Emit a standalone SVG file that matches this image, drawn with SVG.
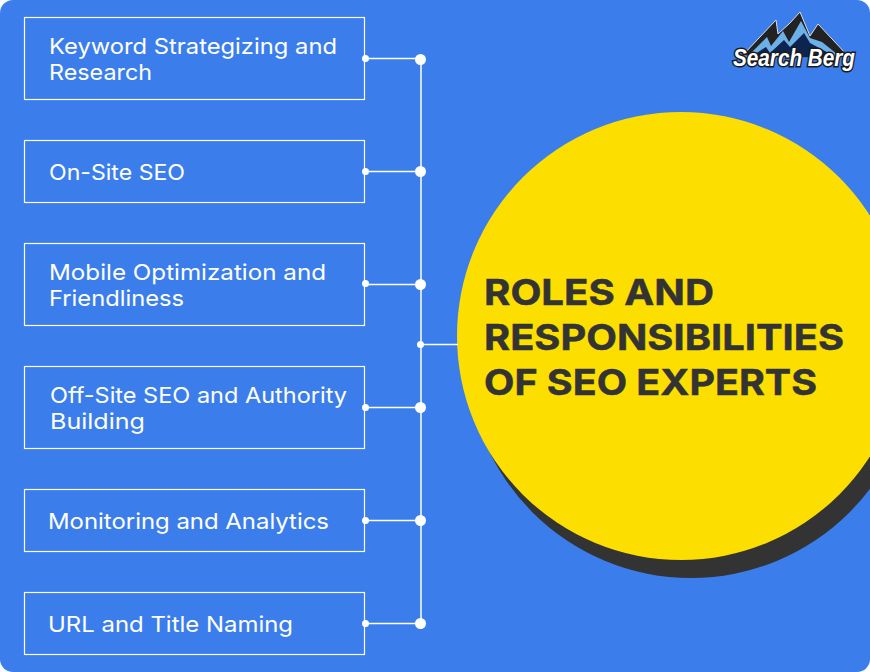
<svg xmlns="http://www.w3.org/2000/svg" width="870" height="672" viewBox="0 0 870 672">
<style>
.box{fill:none;stroke:#fff;stroke-width:1.2}
.t{font-family:Inter,"Open Sans",sans-serif;font-size:22px;font-weight:400;fill:#fff}
.h{font-family:Inter,"Liberation Sans",sans-serif;font-size:36px;font-weight:700;fill:#333;stroke:#333;stroke-width:.5}
.l{fill:none;stroke:#fff;stroke-width:1.5}
.d{fill:#fff}
</style>
<rect width="870" height="672" fill="#fff"/>
<rect id="background" width="870" height="672" rx="13" fill="#3b7eeb"/>
<g id="hub">
<circle cx="691" cy="354" r="224" fill="#333"/>
<circle cx="681" cy="336" r="224" fill="#fcdf00"/>
<text class="h" x="484" y="305" textLength="230" lengthAdjust="spacingAndGlyphs">ROLES AND</text>
<text class="h" x="484" y="350" textLength="360" lengthAdjust="spacingAndGlyphs">RESPONSIBILITIES</text>
<text class="h" x="484" y="395" textLength="333" lengthAdjust="spacingAndGlyphs">OF SEO EXPERTS</text>
</g>
<g id="connectors">
<path class="l" d="M421 59V623M365 58.500H421M365 171.500H421M365 284.500H421M365 407.500H421M365 520.500H421M365 623.500H421M421 344.500H458"/>
<g class="d">
<circle cx="365.500" cy="58.500" r="3.500"/><circle cx="365.500" cy="171.500" r="3.500"/><circle cx="365.500" cy="283.500" r="3.500"/><circle cx="365.500" cy="407.500" r="3.500"/><circle cx="365.500" cy="520.500" r="3.500"/><circle cx="365.500" cy="623.500" r="3.500"/>
<circle cx="420.500" cy="59.500" r="5.500"/><circle cx="420.500" cy="171.500" r="5.500"/><circle cx="420.500" cy="284.500" r="5.500"/><circle cx="420.500" cy="407.500" r="5.500"/><circle cx="420.500" cy="520.500" r="5.500"/><circle cx="420.500" cy="623.500" r="5.500"/>
<circle cx="420.500" cy="344.500" r="3.500"/>
</g>
</g>
<g id="node1"><rect class="box" x="24.500" y="17.500" width="340" height="82"/>
<text class="t" x="49" y="54" textLength="288" lengthAdjust="spacingAndGlyphs">Keyword Strategizing and</text>
<text class="t" x="49" y="80" textLength="103" lengthAdjust="spacingAndGlyphs">Research</text></g>
<g id="node2"><rect class="box" x="24.500" y="140.500" width="340" height="62"/>
<text class="t" x="49" y="180" textLength="136" lengthAdjust="spacingAndGlyphs">On-Site SEO</text></g>
<g id="node3"><rect class="box" x="24.500" y="243.500" width="340" height="82"/>
<text class="t" x="49" y="280" textLength="277" lengthAdjust="spacingAndGlyphs">Mobile Optimization and</text>
<text class="t" x="49" y="306" textLength="135" lengthAdjust="spacingAndGlyphs">Friendliness</text></g>
<g id="node4"><rect class="box" x="24.500" y="366.500" width="340" height="82"/>
<text class="t" x="50" y="403" textLength="297" lengthAdjust="spacingAndGlyphs">Off-Site SEO and Authority</text>
<text class="t" x="50" y="429" textLength="95" lengthAdjust="spacingAndGlyphs">Building</text></g>
<g id="node5"><rect class="box" x="24.500" y="489.500" width="340" height="62"/>
<text class="t" x="48" y="529" textLength="281" lengthAdjust="spacingAndGlyphs">Monitoring and Analytics</text></g>
<g id="node6"><rect class="box" x="24.500" y="592.500" width="340" height="62"/>
<text class="t" x="48" y="632" textLength="245" lengthAdjust="spacingAndGlyphs">URL and Title Naming</text></g>
<g id="logo">
<path d="M742 56L776 20L778 34L790 23L800 12L810 36L818 24L848 56Z" fill="#222" stroke="#ddd" stroke-width="1"/>
<path d="M748 56L767 37L771 46L783 31L789 42L801 21L810 38L822 42L842 58Z" fill="#6db0e8"/>
<path d="M752 56L766 47L770 53L784 40L790 47L804 33L810 43L838 58Z" fill="#0d2350"/>
<text x="733" y="66" font-family="Liberation Sans,Arial,sans-serif" font-size="23" font-weight="700" font-style="italic" fill="#fff" stroke="#1a1a1a" stroke-width="3" paint-order="stroke" textLength="122" lengthAdjust="spacingAndGlyphs">Search Berg</text>
</g>
</svg>
